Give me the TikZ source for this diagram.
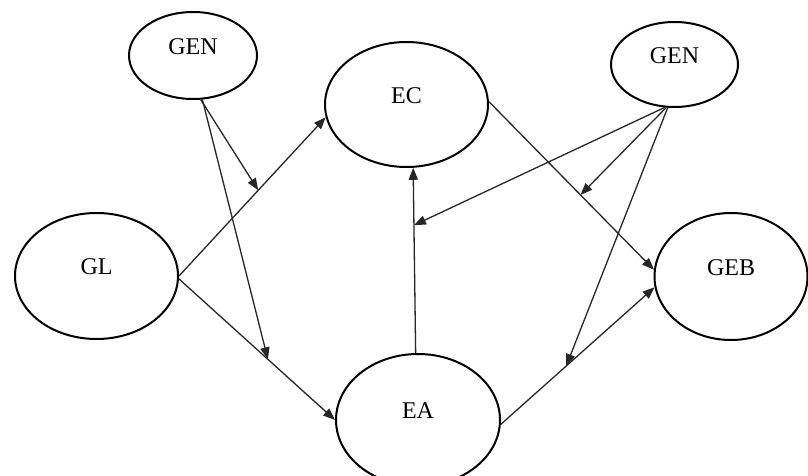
\documentclass[tikz,border=0pt]{standalone}
\usepackage{fontspec}
\setmainfont{Liberation Serif}
\usetikzlibrary{shapes.geometric,arrows.meta}
\begin{document}
\begin{tikzpicture}[x=0.5pt,y=-0.5pt,
  ell/.style={ellipse,draw=black,line width=1pt,inner sep=0pt},
  lbl/.style={font=\fontsize{12}{14}\selectfont,yshift=4.5pt},
  arr/.style={draw=black!85,line width=0.65pt,-{Triangle[length=6pt,width=4.6pt]}}]
\useasboundingbox (0,0) rectangle (808,476);
\node[ell,minimum width=64pt,minimum height=43.5pt,label={[lbl]center:GEN}] (genl) at (193,55.5) {};
\node[ell,minimum width=81.5pt,minimum height=62.5pt,label={[lbl]center:EC}] (ec) at (406.5,104.5) {};
\node[ell,minimum width=63.5pt,minimum height=42.5pt,label={[lbl]center:GEN}] (genr) at (674.5,64.5) {};
\node[ell,minimum width=81.5pt,minimum height=63pt,label={[lbl]center:GL}] (gl) at (96.5,276) {};
\node[ell,minimum width=76.5pt,minimum height=63.5pt,label={[lbl]center:GEB}] (geb) at (731,276.5) {};
\node[ell,minimum width=82pt,minimum height=66pt,label={[lbl]center:EA}] (ea) at (418,420) {};
% main paths
\draw[arr] (gl.east) -- (ec.189) coordinate[pos=0.54] (p1);
\draw[arr] (gl.-2) -- (ea.180) coordinate[pos=0.57] (p2);
\draw[arr] (ea.92) -- (ec.-84) coordinate[pos=0.69] (p3);
\draw[arr] (ec.2) -- (geb.175) coordinate[pos=0.555] (p4);
\draw[arr] (ea.-3) -- (geb.188) coordinate[pos=0.425] (p5);
% moderating arrows
\draw[arr] (genl.-80) -- (p1);
\draw[arr] (genl.-78) -- (p2);
\draw[arr] (genr.-103) -- (p3);
\draw[arr] (genr.-101) -- (p4);
\draw[arr] (genr.-99) -- (p5);
\end{tikzpicture}
\end{document}
